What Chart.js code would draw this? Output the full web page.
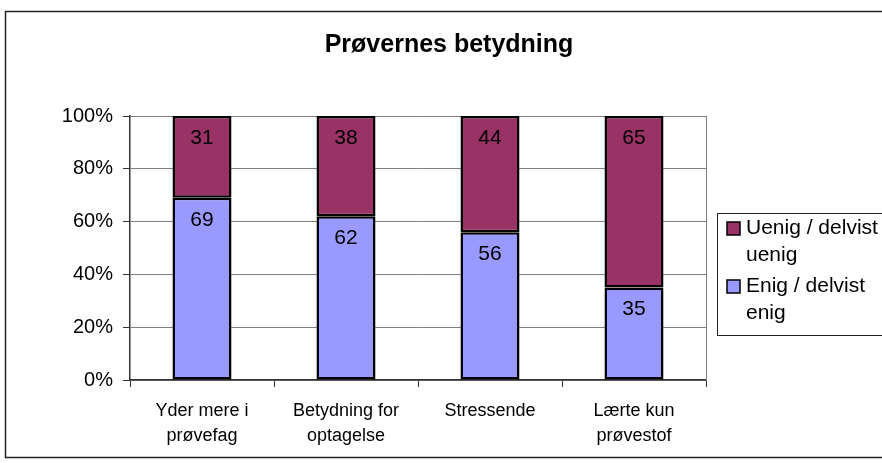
<!DOCTYPE html>
<html>
<head>
<meta charset="utf-8">
<script src="https://cdn.jsdelivr.net/npm/chart.js@4.4.0/dist/chart.umd.min.js"></script>
<style>
  body { margin: 0; background: #fff; }
  canvas { display: block; }
</style>
</head>
<body>
<canvas id="chart" width="882" height="463"></canvas>
<script>
const categories = [
  ["Yder mere i", "prøvefag"],
  ["Betydning for", "optagelse"],
  ["Stressende"],
  ["Lærte kun", "prøvestof"]
];
const enigValues = [69, 62, 56, 35];
const uenigValues = [31, 38, 44, 65];
const yTicks = [0, 20, 40, 60, 80, 100];
const titleText = "Prøvernes betydning";

const FONT = "'Liberation Sans', Arial, sans-serif";

// white page + outer frame + title
const framePlugin = {
  id: "frame",
  beforeDraw(chart) {
    const ctx = chart.ctx;
    ctx.save();
    ctx.fillStyle = "#fff";
    ctx.fillRect(0, 0, chart.width, chart.height);
    ctx.strokeStyle = "#222";
    ctx.lineWidth = 1.5;
    ctx.strokeRect(5.5, 11.5, chart.width + 10, 446);
    ctx.fillStyle = "#000";
    ctx.font = "bold 25px " + FONT;
    ctx.textAlign = "center";
    ctx.textBaseline = "middle";
    ctx.fillText(titleText, 449, 45);
    ctx.restore();
  },
  beforeDatasetsDraw(chart) {
    // gray right edge of the plot area
    const { ctx, chartArea } = chart;
    ctx.save();
    ctx.strokeStyle = "#808080";
    ctx.lineWidth = 1;
    ctx.beginPath();
    ctx.moveTo(Math.round(chartArea.right) + 0.5, chartArea.top);
    ctx.lineTo(Math.round(chartArea.right) + 0.5, chartArea.bottom);
    ctx.stroke();
    ctx.restore();
  }
};

// numbers inside the top of each segment
const valueLabels = {
  id: "valueLabels",
  afterDatasetsDraw(chart) {
    const ctx = chart.ctx;
    ctx.save();
    ctx.fillStyle = "#000";
    ctx.font = "21px " + FONT;
    ctx.textAlign = "center";
    ctx.textBaseline = "middle";
    chart.data.datasets.forEach((ds, i) => {
      chart.getDatasetMeta(i).data.forEach((bar, j) => {
        ctx.fillText(ds.data[j], bar.x, bar.y + 22);
      });
    });
    ctx.restore();
  }
};

// boxed legend on the right, like Excel
const boxLegend = {
  id: "boxLegend",
  afterDraw(chart) {
    const ctx = chart.ctx;
    ctx.save();
    ctx.strokeStyle = "#222";
    ctx.lineWidth = 1;
    ctx.strokeRect(717.5, 213.5, 200, 122);
    ctx.font = "21px " + FONT;
    ctx.textBaseline = "middle";
    ctx.textAlign = "left";
    const items = chart.data.datasets.slice().reverse();
    items.forEach((ds, i) => {
      const y0 = 228 + i * 58;
      ctx.fillStyle = ds.backgroundColor;
      ctx.fillRect(727, y0 - 6, 13, 13);
      ctx.strokeStyle = "#000";
      ctx.lineWidth = 1.5;
      ctx.strokeRect(727, y0 - 6, 13, 13);
      ctx.fillStyle = "#000";
      ds.legendLines.forEach((line, k) => {
        ctx.fillText(line, 746, y0 + k * 27);
      });
    });
    ctx.restore();
  }
};

new Chart(document.getElementById("chart"), {
  type: "bar",
  data: {
    labels: categories,
    datasets: [
      {
        label: "Enig / delvist enig",
        legendLines: ["Enig / delvist", "enig"],
        data: enigValues,
        backgroundColor: "#9999FF",
        borderColor: "#000",
        borderWidth: 2.5,
        borderSkipped: false
      },
      {
        label: "Uenig / delvist uenig",
        legendLines: ["Uenig / delvist", "uenig"],
        data: uenigValues,
        backgroundColor: "#993366",
        borderColor: "#000",
        borderWidth: 2.5,
        borderSkipped: false
      }
    ]
  },
  options: {
    responsive: false,
    animation: false,
    barPercentage: 0.41,
    categoryPercentage: 1,
    layout: { padding: { top: 116, right: 176, left: 0, bottom: 0 } },
    plugins: {
      legend: { display: false },
      tooltip: { enabled: false }
    },
    scales: {
      x: {
        stacked: true,
        afterFit: (s) => { s.height = 83; },
        grid: { drawOnChartArea: false, tickLength: 7, color: "#333", offset: true },
        border: { color: "#333", width: 1.5 },
        ticks: {
          color: "#000",
          font: { size: 18, family: FONT, lineHeight: 1.4 },
          padding: 11,
          maxRotation: 0,
          autoSkip: false
        }
      },
      y: {
        stacked: true,
        min: 0,
        max: 100,
        afterFit: (s) => { s.width = 130; },
        afterBuildTicks: (s) => { s.ticks = yTicks.map(v => ({ value: v })); },
        grid: { color: "#808080", tickColor: "#333", tickLength: 7 },
        border: { color: "#333", width: 1.5 },
        ticks: {
          color: "#000",
          font: { size: 20, family: FONT },
          padding: 10,
          callback: (v) => v + "%"
        }
      }
    }
  },
  plugins: [framePlugin, valueLabels, boxLegend]
});
</script>
</body>
</html>
